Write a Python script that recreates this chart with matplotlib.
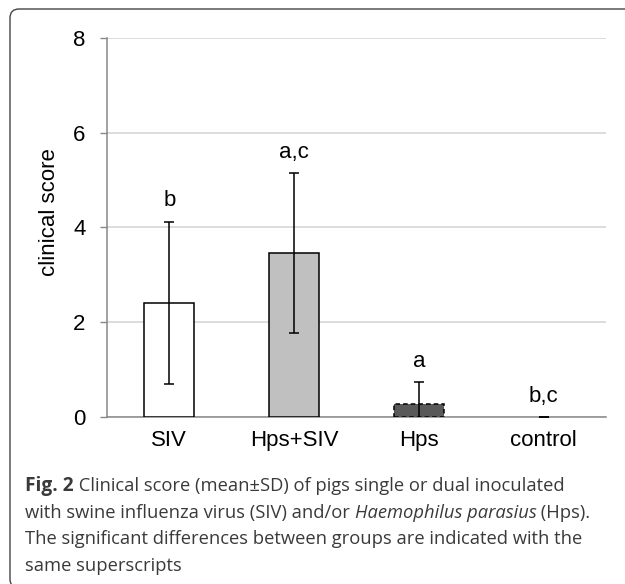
import matplotlib
matplotlib.use("Agg")
import matplotlib.pyplot as plt
from matplotlib.patches import FancyBboxPatch

# data
groups = ["SIV", "Hps+SIV", "Hps", "control"]
means = [2.41, 3.46, 0.27, 0.0]
sds = [1.71, 1.69, 0.47, 0.0]
letters = ["b", "a,c", "a", "b,c"]

bar_colors = ["white", "#c0c0c0", "#595959", "white"]
bar_styles = ["solid", "solid", (0, (3, 2)), "solid"]
bar_edge_w = [1.1, 1.1, 1.1, 0]

caption_lines = [
    [("Fig. 2", "bold"), (" Clinical score (mean\u00b1SD) of pigs single or dual inoculated", "normal")],
    [("with swine influenza virus (SIV) and/or ", "normal"), ("Haemophilus parasius", "italic"), (" (Hps).", "normal")],
    [("The significant differences between groups are indicated with the", "normal")],
    [("same superscripts", "normal")],
]

plt.rcParams["font.family"] = ["Liberation Sans", "DejaVu Sans"]

fig = plt.figure(figsize=(6.25, 5.84), dpi=100)
ax = fig.add_axes([0.1712, 0.2860, 0.7984, 0.6489])

x = list(range(len(groups)))
bars = ax.bar(x, means, width=0.4, color=bar_colors, edgecolor="black", zorder=3)
for b, ls, lw in zip(bars, bar_styles, bar_edge_w):
    b.set_linestyle(ls)
    b.set_linewidth(lw)
ax.errorbar(x, means, yerr=sds, fmt="none", ecolor="black", elinewidth=1.1,
            capsize=3.6, capthick=1.1, zorder=4)

for xi, m, s, lab in zip(x, means, sds, letters):
    ax.annotate(lab, (xi, m + s), xytext=(0, 15), textcoords="offset points",
                ha="center", va="center", fontsize=16)

ax.set_xlim(-0.5, 3.5)
ax.set_ylim(0, 8)
ax.set_yticks([0, 2, 4, 6, 8])
ax.set_xticks(x)
ax.set_xticklabels(groups)
ax.tick_params(axis="x", length=0, pad=9.5, labelsize=16)
ax.tick_params(axis="y", length=5, width=1, color="#888888", pad=10.5, labelsize=16)
ax.grid(axis="y", color="#d9d9d9", linewidth=1.3, zorder=0)
for side in ["top", "right"]:
    ax.spines[side].set_visible(False)
for side in ["left", "bottom"]:
    ax.spines[side].set_color("#888888")
    ax.spines[side].set_linewidth(1.1)
ax.set_ylabel("clinical score", fontsize=16)
ax.yaxis.set_label_coords(-0.094, 0.541)

# rounded frame around figure + caption (pixel coords)
frame = FancyBboxPatch((10, -4), 640, 579, boxstyle="round,pad=0,rounding_size=9",
                       transform=None, fill=False, edgecolor="#444444", linewidth=1.0)
fig.patches.append(frame)

# caption, drawn piece by piece so bold/italic can be mixed
renderer = fig.canvas.get_renderer()
baselines = [491, 518, 544, 571]
for line, yb in zip(caption_lines, baselines):
    xpos = 25
    for txt, style in line:
        kw = dict(fontsize=13.2, color="#3a3a3a", family="Open Sans", va="baseline",
                  transform=None)
        if style == "bold":
            kw["fontweight"] = "bold"
            kw["fontsize"] = 13.8
        if style == "italic":
            kw["fontstyle"] = "italic"
        t = fig.text(xpos, 584 - yb, txt, **kw)
        xpos += t.get_window_extent(renderer).width

fig.savefig("out.png", dpi=100)
